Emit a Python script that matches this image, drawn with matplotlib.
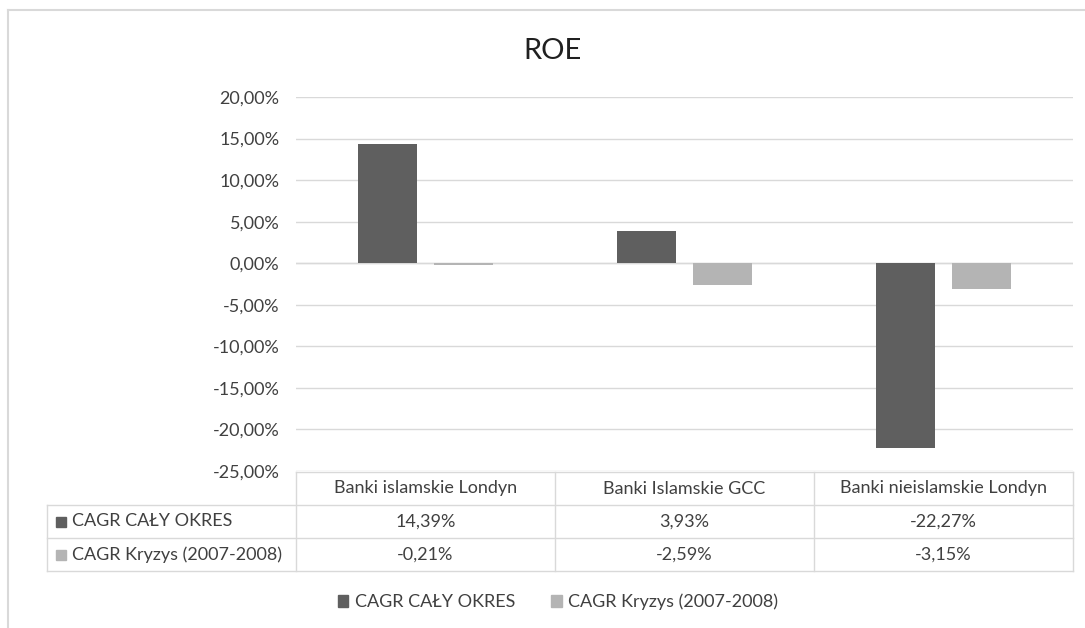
"""
ROE - CAGR dla banków islamskich i nieislamskich, wykres słupkowy z tabelą danych.
"""

import matplotlib.pyplot as plt
import numpy as np
from matplotlib.lines import Line2D
from matplotlib.patches import Rectangle

plt.rcParams['font.family'] = ['Lato', 'DejaVu Sans']
plt.rcParams['font.size'] = 13

# Dane
categories = ['Banki islamskie Londyn', 'Banki Islamskie GCC', 'Banki nieislamskie Londyn']
series_names = ['CAGR CAŁY OKRES', 'CAGR Kryzys (2007-2008)']
cagr_total = [14.39, 3.93, -22.27]
cagr_crisis = [-0.21, -2.59, -3.15]
yticks = [20, 15, 10, 5, 0, -5, -10, -15, -20, -25]

colors = ['#5f5f5f', '#b4b4b4']
text_color = '#404040'
grid_color = '#d9d9d9'
fs = 13


def fmt(v):
    return f'{v:.2f}%'.replace('.', ',')


W, H = 1085, 628
fig = plt.figure(figsize=(W / 100, H / 100), dpi=100)

# plot area in pixel coordinates
px_left, px_right, px_top, px_bottom = 296, 1073, 97, 471
ax = fig.add_axes([px_left / W, 1 - px_bottom / H,
                   (px_right - px_left) / W, (px_bottom - px_top) / H])

x = np.arange(len(categories))
width = 0.227
offset = 0.146
ax.bar(x - offset, cagr_total, width, color=colors[0], zorder=3)
ax.bar(x + offset, cagr_crisis, width, color=colors[1], zorder=3)

ax.set_xlim(-0.5, len(categories) - 0.5)
ax.set_ylim(-25, 20)
ax.set_yticks(yticks)
ax.set_yticklabels([fmt(v) for v in yticks], color=text_color, fontsize=fs)
ax.set_xticks([])
ax.tick_params(axis='y', length=0, pad=12)
ax.grid(True, axis='y', color=grid_color, linewidth=1, zorder=0)
for s in ax.spines.values():
    s.set_visible(False)
ax.axhline(0, color=grid_color, linewidth=1, zorder=2)

fig.suptitle('ROE', x=553 / W, y=1 - 51 / H, va='center', fontsize=21, color='#202020')

# outer chart border
fig.add_artist(Line2D([8 / W, 8 / W], [0, 1 - 10 / H], transform=fig.transFigure,
                      color=grid_color, linewidth=1.5))
fig.add_artist(Line2D([8 / W, 1], [1 - 10 / H, 1 - 10 / H], transform=fig.transFigure,
                      color=grid_color, linewidth=1.5))

# data table
tab_left = 47
col_edges = [px_left + i * (px_right - px_left) / len(categories) for i in range(len(categories) + 1)]
row_edges = [472, 505, 538, 571]


def hline(y, x0, x1):
    fig.add_artist(Line2D([x0 / W, x1 / W], [1 - y / H, 1 - y / H], transform=fig.transFigure,
                          color=grid_color, linewidth=1))


def vline(x0, y0, y1):
    fig.add_artist(Line2D([x0 / W, x0 / W], [1 - y0 / H, 1 - y1 / H], transform=fig.transFigure,
                          color=grid_color, linewidth=1))


hline(row_edges[0], col_edges[0], col_edges[-1])
for y in row_edges[1:]:
    hline(y, tab_left, col_edges[-1])
vline(tab_left, row_edges[1], row_edges[3])
for xe in col_edges:
    vline(xe, row_edges[0], row_edges[3])

for i, cat in enumerate(categories):
    cx = (col_edges[i] + col_edges[i + 1]) / 2
    cy = (row_edges[0] + row_edges[1]) / 2
    fig.text(cx / W, 1 - cy / H, cat, ha='center', va='center', color=text_color, fontsize=fs)

for r, (name, vals) in enumerate(zip(series_names, [cagr_total, cagr_crisis])):
    cy = (row_edges[r + 1] + row_edges[r + 2]) / 2
    fig.add_artist(Rectangle(((tab_left + 9) / W, 1 - (cy + 5) / H), 10 / W, 10 / H,
                             transform=fig.transFigure, color=colors[r]))
    fig.text((tab_left + 25) / W, 1 - cy / H, name, ha='left', va='center',
             color=text_color, fontsize=fs)
    for i, v in enumerate(vals):
        cx = (col_edges[i] + col_edges[i + 1]) / 2
        fig.text(cx / W, 1 - cy / H, fmt(v), ha='center', va='center',
                 color=text_color, fontsize=fs)

# legend
handles = [Rectangle((0, 0), 1, 1, color=c) for c in colors]
fig.legend(handles, series_names, loc='center', bbox_to_anchor=(558 / W, 1 - 602 / H),
           ncol=2, frameon=False, fontsize=fs, handlelength=0.6, handleheight=0.6,
           handletextpad=0.35, columnspacing=2.0, labelcolor=text_color)

plt.savefig('out.png', dpi=100)
plt.close()
